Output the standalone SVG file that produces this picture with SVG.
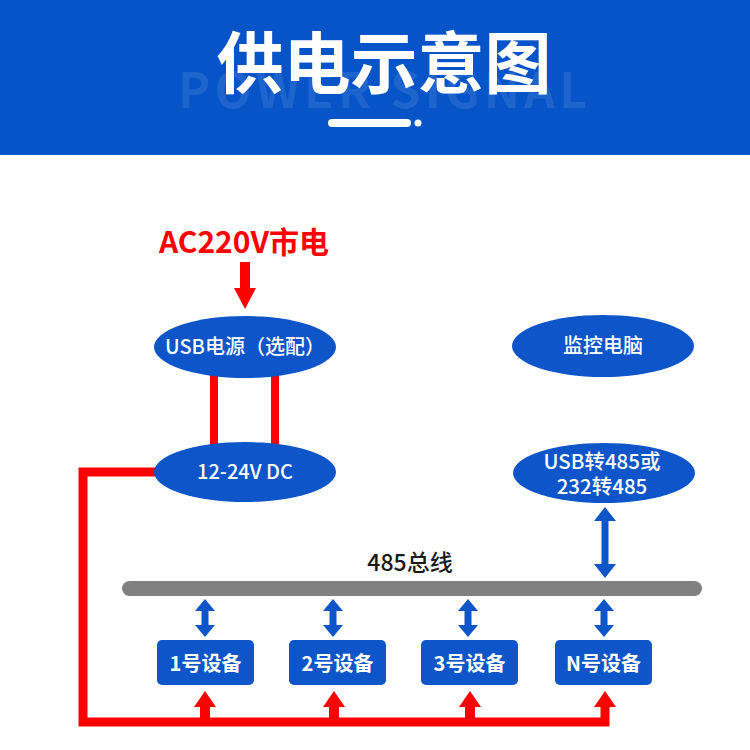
<svg xmlns="http://www.w3.org/2000/svg" width="750" height="750" viewBox="0 0 750 750">
<defs>
<style>
.cjk{font-family:"Noto Sans CJK SC","Noto Sans",sans-serif}
.node{fill:#0d55c8}
.ntxt{fill:#ffffff;font-size:20px;font-weight:500;text-anchor:middle}
.btxt{fill:#ffffff;font-size:20px;font-weight:700;text-anchor:middle}
.red{fill:#ff0000}
.wire{fill:none;stroke:#ff0000;stroke-width:9;stroke-linejoin:miter}
.blue{fill:#0d55c8}
</style>
</defs>
<rect id="bg" x="0" y="0" width="750" height="750" fill="#ffffff"/>
<g id="header">
<rect x="0" y="0" width="750" height="155" fill="#0654c8"/>
<text x="178" y="108" class="cjk" font-size="48" font-weight="700" fill="#ffffff" fill-opacity="0.1" textLength="409" lengthAdjust="spacing">POWER SIGNAL</text>
<text x="384" y="88" class="cjk" font-size="67" font-weight="700" fill="#ffffff" text-anchor="middle">供电示意图</text>
<line x1="332" y1="123" x2="407" y2="123" stroke="#ffffff" stroke-width="8" stroke-linecap="round"/>
<circle cx="418" cy="123" r="3.5" fill="#ffffff"/>
</g>
<g id="connectors">
<line x1="214" y1="370" x2="214" y2="450" stroke="#ff0000" stroke-width="8"/>
<line x1="275" y1="370" x2="275" y2="450" stroke="#ff0000" stroke-width="8"/>
<path class="wire" d="M160 472 H83 V722 H605 V705"/>
<rect class="red" x="240" y="262" width="10" height="27"/>
<polygon class="red" points="234,288 256,288 245,309"/>
<g id="power-arrows">
<rect class="red" x="200" y="705" width="10" height="17"/>
<polygon class="red" points="194,707 216,707 205,691"/>
<rect class="red" x="329" y="705" width="10" height="17"/>
<polygon class="red" points="323,707 345,707 334,691"/>
<rect class="red" x="465" y="705" width="10" height="17"/>
<polygon class="red" points="459,707 481,707 470,691"/>
<polygon class="red" points="594,707 616,707 605,691"/>
</g>
<g id="bus-arrows">
<rect class="blue" x="601.5" y="518" width="7" height="48"/>
<polygon class="blue" points="594,521 616,521 605,507"/>
<polygon class="blue" points="594,564 616,564 605,578"/>
<rect class="blue" x="201.5" y="608" width="7" height="20"/>
<polygon class="blue" points="195,611 215,611 205,599"/>
<polygon class="blue" points="195,625 215,625 205,637"/>
<rect class="blue" x="329.5" y="608" width="7" height="20"/>
<polygon class="blue" points="323,611 343,611 333,599"/>
<polygon class="blue" points="323,625 343,625 333,637"/>
<rect class="blue" x="464.5" y="608" width="7" height="20"/>
<polygon class="blue" points="458,611 478,611 468,599"/>
<polygon class="blue" points="458,625 478,625 468,637"/>
<rect class="blue" x="600.5" y="608" width="7" height="20"/>
<polygon class="blue" points="594,611 614,611 604,599"/>
<polygon class="blue" points="594,625 614,625 604,637"/>
</g>
</g>
<g id="ac-label">
<text x="244" y="253" class="cjk" font-size="30" font-weight="700" fill="#ff0000" text-anchor="middle">AC220V市电</text>
</g>
<g id="usb-power">
<ellipse class="node" cx="245" cy="347" rx="91" ry="31"/>
<text x="245" y="354" class="cjk ntxt" font-size="19">USB电源（选配）</text>
</g>
<g id="dc">
<ellipse class="node" cx="245" cy="472" rx="91" ry="30"/>
<text x="245" y="479" class="cjk ntxt">12-24V DC</text>
</g>
<g id="pc">
<ellipse class="node" cx="603" cy="346" rx="91" ry="31"/>
<text x="603" y="353" class="cjk ntxt">监控电脑</text>
</g>
<g id="converter">
<ellipse class="node" cx="604" cy="473" rx="91" ry="30"/>
<text x="602" y="469" class="cjk ntxt" style="font-size:20.5px">USB转485或</text>
<text x="602" y="494" class="cjk ntxt" style="font-size:20.5px">232转485</text>
</g>
<g id="bus">
<rect x="122" y="581" width="580" height="15" rx="7.5" fill="#808080"/>
<text x="410" y="571" class="cjk" font-size="23" font-weight="500" fill="#1a1a1a" text-anchor="middle">485总线</text>
</g>
<g id="dev1">
<rect class="node" x="157" y="640" width="97" height="45" rx="5"/>
<text x="205.5" y="671" class="cjk btxt">1号设备</text>
</g>
<g id="dev2">
<rect class="node" x="289" y="640" width="97" height="45" rx="5"/>
<text x="337.5" y="671" class="cjk btxt">2号设备</text>
</g>
<g id="dev3">
<rect class="node" x="421" y="640" width="97" height="45" rx="5"/>
<text x="469.5" y="671" class="cjk btxt">3号设备</text>
</g>
<g id="devN">
<rect class="node" x="555" y="640" width="97" height="45" rx="5"/>
<text x="603.5" y="671" class="cjk btxt">N号设备</text>
</g>
</svg>
